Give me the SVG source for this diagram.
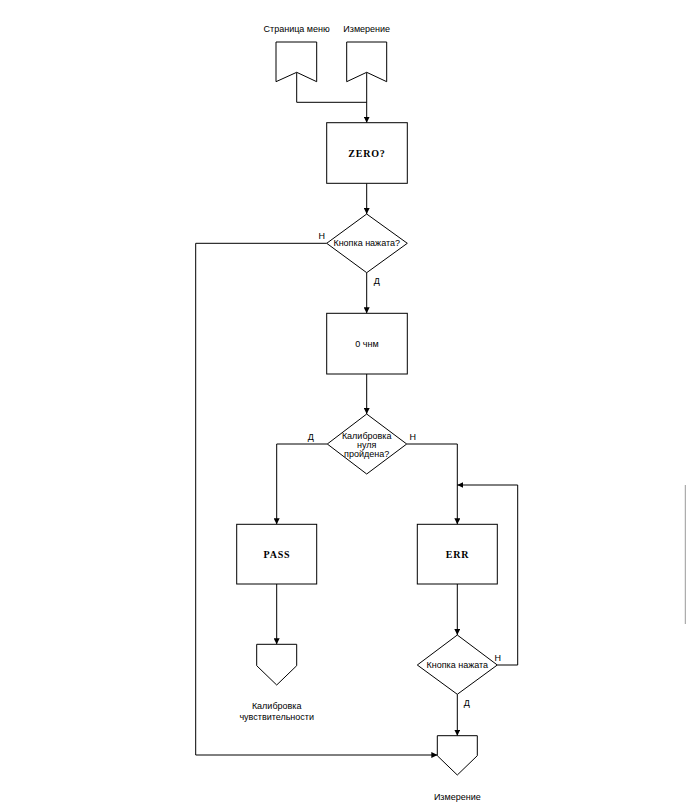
<svg xmlns="http://www.w3.org/2000/svg" width="686" height="807" viewBox="0 0 686 807">
<style>
.s{fill:#fff;stroke:#000;stroke-width:1}
.c{fill:none;stroke:#000;stroke-width:1}
.t{font-family:"Liberation Sans",Arial,sans-serif;font-size:9px;fill:#000;text-anchor:middle;dominant-baseline:central}
.b{font-family:"Liberation Serif","Times New Roman",serif;font-size:10px;font-weight:bold;letter-spacing:0.8px;fill:#000;text-anchor:middle;dominant-baseline:central}
</style>
<defs>
<marker id="a" viewBox="0 0 10 10" refX="10" refY="5" markerWidth="6" markerHeight="6" markerUnits="userSpaceOnUse" orient="auto">
<path d="M0,0 L10,5 L0,10 z" fill="#000"/>
</marker>
</defs>
<rect width="686" height="807" fill="#fff"/>
<line x1="685.3" y1="485" x2="685.3" y2="624" stroke="#999" stroke-width="1"/>
<g id="connectors">
<path class="c" d="M296.7,72.3 V102.3 H366.7"/>
<path class="c" d="M366.7,72.3 V122.7" marker-end="url(#a)"/>
<path class="c" d="M366.7,183.3 V214" marker-end="url(#a)"/>
<path class="c" d="M326.7,243.3 H195.7 V755 H437.3" marker-end="url(#a)"/>
<path class="c" d="M366.7,272.7 V313.3" marker-end="url(#a)"/>
<path class="c" d="M366.7,374 V414" marker-end="url(#a)"/>
<path class="c" d="M327.3,444 H276.7 V524.3" marker-end="url(#a)"/>
<path class="c" d="M406.7,444 H457.3 V524.3" marker-end="url(#a)"/>
<path class="c" d="M276.7,584 V644.3" marker-end="url(#a)"/>
<path class="c" d="M457.3,584 V635" marker-end="url(#a)"/>
<path class="c" d="M497.3,665 H517.7 V485 H457.3" marker-end="url(#a)"/>
<path class="c" d="M457.3,694.3 V735.7" marker-end="url(#a)"/>
<text class="t" x="321.7" y="236">Н</text>
<text class="t" x="376.7" y="281">Д</text>
<text class="t" x="310.7" y="437">Д</text>
<text class="t" x="412.7" y="437">Н</text>
<text class="t" x="497.7" y="658">Н</text>
<text class="t" x="466.7" y="703">Д</text>
</g>
<g id="in-menu">
<text class="t" x="296.7" y="29">Страница меню</text>
<polygon class="s" points="276,42 316.7,42 316.7,81.7 296.7,72.3 276,81.7"/>
</g>
<g id="in-measure">
<text class="t" x="366.7" y="29">Измерение</text>
<polygon class="s" points="346.7,42 386.7,42 386.7,81.7 366.7,72.3 346.7,81.7"/>
</g>
<g id="zero">
<rect class="s" x="326.7" y="122.7" width="80.6" height="60.6"/>
<text class="b" x="367" y="153.5">ZERO?</text>
</g>
<g id="btn1">
<polygon class="s" points="366.7,214 407.3,243.3 366.7,272.7 326.7,243.3"/>
<text class="t" x="366.7" y="243.3">Кнопка нажата?</text>
</g>
<g id="zero-ppm">
<rect class="s" x="326.7" y="313.3" width="80.6" height="60.7"/>
<text class="t" x="367" y="344">0 чнм</text>
</g>
<g id="cal-check">
<polygon class="s" points="366.7,414 406.7,444 366.7,474 327.3,444"/>
<text class="t" x="366.7" y="436">Калибровка</text>
<text class="t" x="366.7" y="445">нуля</text>
<text class="t" x="366.7" y="453.5">пройдена?</text>
</g>
<g id="pass">
<rect class="s" x="236.7" y="524.3" width="80" height="59.7"/>
<text class="b" x="277" y="554.5">PASS</text>
</g>
<g id="err">
<rect class="s" x="417.3" y="524.3" width="80" height="59.7"/>
<text class="b" x="457.6" y="554.5">ERR</text>
</g>
<g id="btn2">
<polygon class="s" points="457.3,635 497.3,665 457.3,694.3 417.3,665"/>
<text class="t" x="457.3" y="665">Кнопка нажата</text>
</g>
<g id="out-sens">
<polygon class="s" points="256.7,644.3 296.7,644.3 296.7,665.7 276.7,685 256.7,665.7"/>
<text class="t" x="276.7" y="705.7">Калибровка</text>
<text class="t" x="276.7" y="716.7">чувствительности</text>
</g>
<g id="out-measure">
<polygon class="s" points="437.3,735.7 477.3,735.7 477.3,755.7 457.3,775 437.3,755.7"/>
<text class="t" x="457.3" y="796.7">Измерение</text>
</g>
</svg>
